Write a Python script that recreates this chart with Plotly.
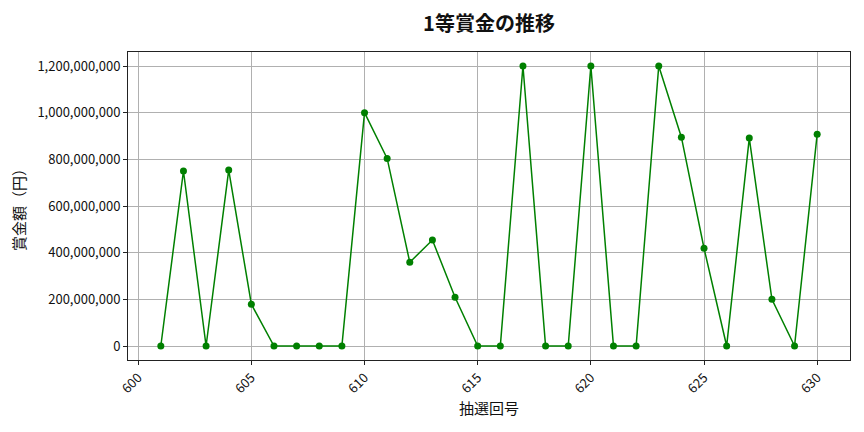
import plotly.graph_objects as go

# 抽選回号と1等賞金
draw_no = list(range(601, 631))
prize = [
    0, 750_000_000, 0, 754_000_000, 179_000_000,
    0, 0, 0, 0, 1_000_000_000,
    804_000_000, 359_000_000, 454_000_000, 209_000_000, 0,
    0, 1_200_000_000, 0, 0, 1_200_000_000,
    0, 0, 1_200_000_000, 895_000_000, 419_000_000,
    0, 891_000_000, 200_000_000, 0, 908_000_000,
]
x_ticks = [600, 605, 610, 615, 620, 625, 630]
y_ticks = [0, 200_000_000, 400_000_000, 600_000_000, 800_000_000, 1_000_000_000, 1_200_000_000]

font = "Noto Sans CJK JP"

fig = go.Figure(go.Scatter(
    x=draw_no, y=prize,
    mode="lines+markers",
    line=dict(color="green", width=1.5),
    marker=dict(color="green", size=7),
))

axis_common = dict(
    showline=True, mirror=True, linecolor="#222", linewidth=1,
    ticks="outside", ticklen=4, tickcolor="#222",
    showgrid=True, gridcolor="#b0b0b0", gridwidth=0.8,
    zeroline=False, automargin=False,
    tickfont=dict(family=font, size=13, color="#111"),
)

# the page body adds an 8px offset, so margins are shifted to compensate
fig.update_layout(
    title=dict(text="<b>1等賞金の推移</b>", x=0.5, xref="paper", xanchor="center",
               y=1 - 16 / 432, yanchor="middle",
               font=dict(family=font, size=20, color="#111")),
    width=864, height=432,
    margin=dict(l=120, r=22, t=44, b=80),
    paper_bgcolor="white", plot_bgcolor="white",
    showlegend=False,
    font=dict(family=font),
)
fig.update_xaxes(
    range=[599.55, 631.45], tickvals=x_ticks, tickangle=-45,
    title=dict(text="抽選回号", font=dict(family=font, size=15, color="#111"), standoff=6),
    **axis_common,
)
fig.update_yaxes(
    range=[-60_000_000, 1_260_000_000], tickvals=y_ticks, tickformat=",d",
    title=dict(text="賞金額（円）", font=dict(family=font, size=15, color="#111"), standoff=12),
    **axis_common,
)

fig.write_html("out.html")
